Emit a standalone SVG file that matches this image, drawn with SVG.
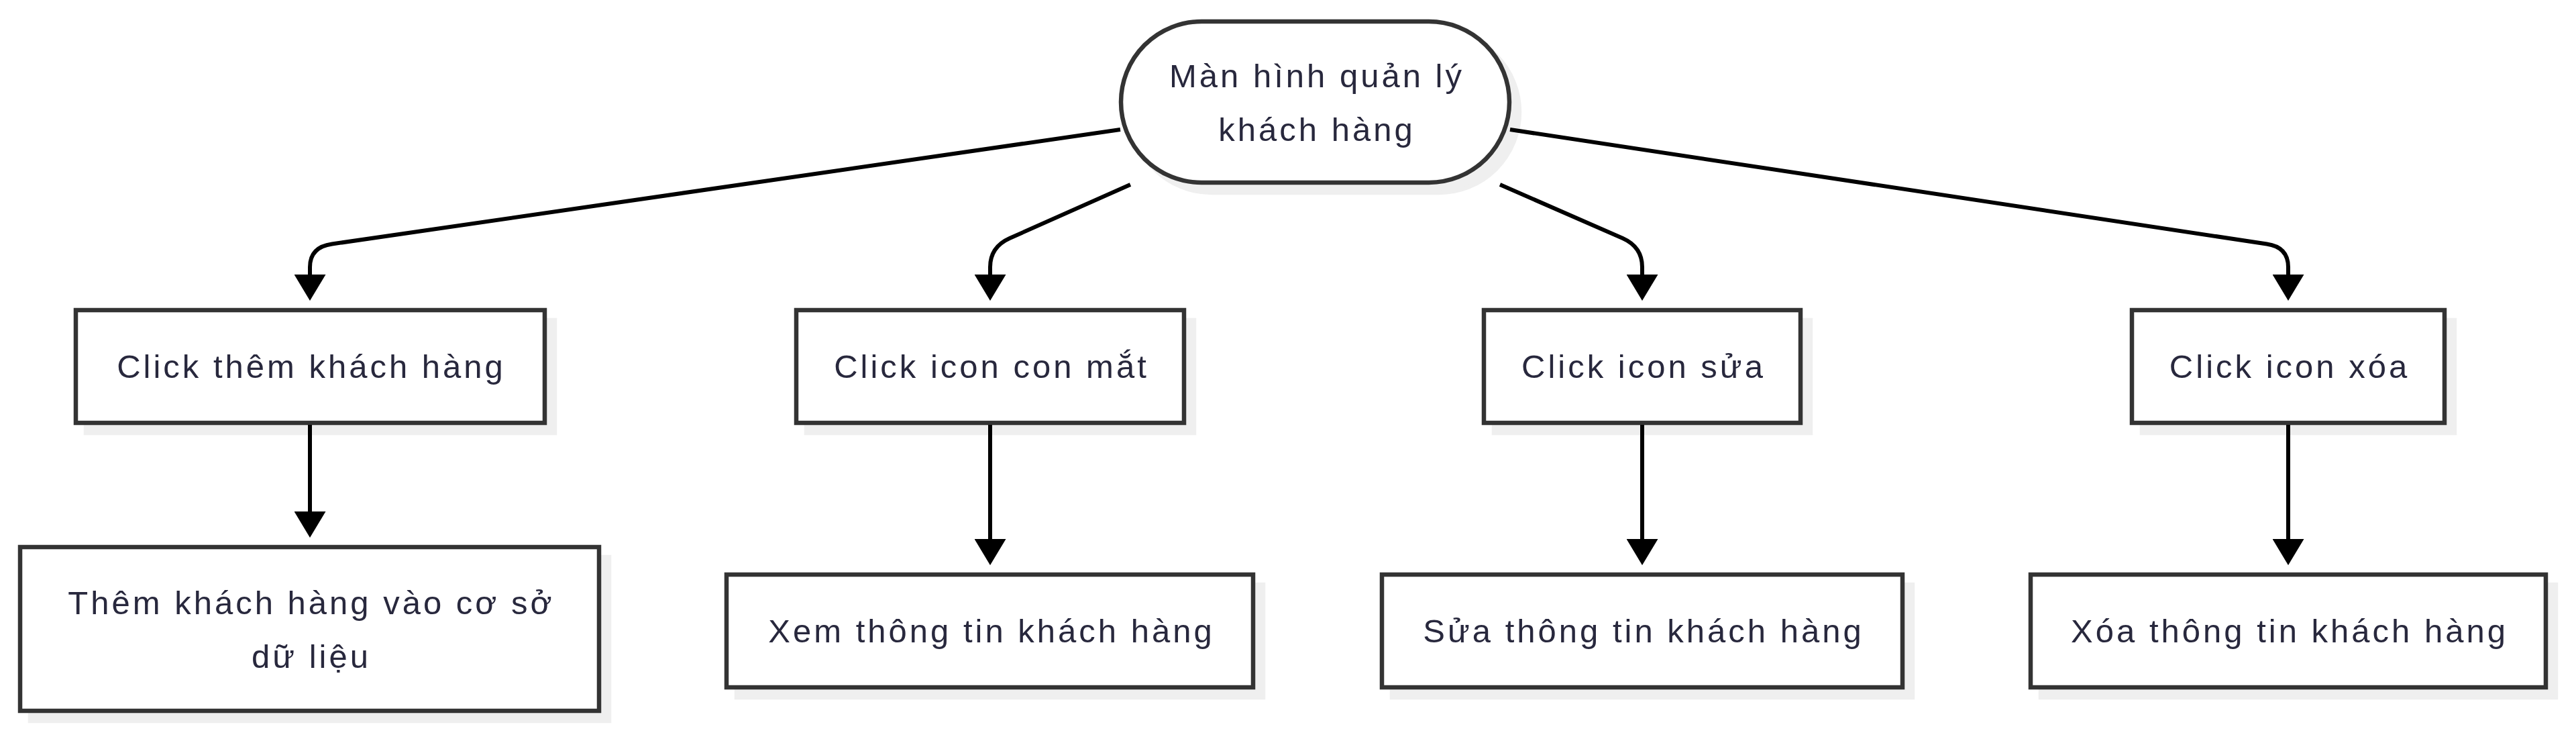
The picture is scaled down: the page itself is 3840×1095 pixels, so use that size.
<svg xmlns="http://www.w3.org/2000/svg" width="3840" height="1095" viewBox="0 0 3840 1095">
<style>
  .node { fill: #ffffff; stroke: #333333; stroke-width: 6.5; }
  .shadow { fill: #efefef; stroke: #efefef; stroke-width: 6.5; }
  .label { font-family: "Liberation Sans", Arial, sans-serif; font-size: 49px; letter-spacing: 4px; fill: #28283d; text-anchor: middle; }
  .edge { fill: none; stroke: #000000; stroke-width: 6; }
</style>
<defs>
  <marker id="arrow" viewBox="0 0 39 47" refX="0" refY="23.5" markerWidth="39" markerHeight="47" markerUnits="userSpaceOnUse" orient="auto">
    <path d="M0,0 L39,23.5 L0,47 z" fill="#000000"/>
  </marker>
</defs>
<rect width="3840" height="1095" fill="#ffffff"/>

<g id="start">
  <rect class="shadow" x="1686" y="47" width="579" height="240" rx="120" ry="120"/>
  <rect class="node" x="1671" y="32" width="579" height="240" rx="120" ry="120"/>
  <text class="label" x="1963" y="129.5">Màn hình quản lý</text>
  <text class="label" x="1963" y="209.5">khách hàng</text>
</g>

<g id="click-them">
  <rect class="shadow" x="128" y="477" width="699" height="168"/>
  <rect class="node" x="113" y="462" width="699" height="168"/>
  <text class="label" x="464" y="563">Click thêm khách hàng</text>
</g>

<g id="click-xem">
  <rect class="shadow" x="1202" y="477" width="578" height="168"/>
  <rect class="node" x="1187" y="462" width="578" height="168"/>
  <text class="label" x="1478" y="563">Click icon con mắt</text>
</g>

<g id="click-sua">
  <rect class="shadow" x="2227" y="477" width="472" height="168"/>
  <rect class="node" x="2212" y="462" width="472" height="168"/>
  <text class="label" x="2450" y="563">Click icon sửa</text>
</g>

<g id="click-xoa">
  <rect class="shadow" x="3193" y="477" width="466" height="168"/>
  <rect class="node" x="3178" y="462" width="466" height="168"/>
  <text class="label" x="3413" y="563">Click icon xóa</text>
</g>

<g id="them-db">
  <rect class="shadow" x="45" y="830" width="863" height="244"/>
  <rect class="node" x="30" y="815" width="863" height="244"/>
  <text class="label" x="464" y="914.5">Thêm khách hàng vào cơ sở</text>
  <text class="label" x="464" y="994.5">dữ liệu</text>
</g>

<g id="xem-info">
  <rect class="shadow" x="1098" y="871" width="785" height="168"/>
  <rect class="node" x="1083" y="856" width="785" height="168"/>
  <text class="label" x="1478" y="957">Xem thông tin khách hàng</text>
</g>

<g id="sua-info">
  <rect class="shadow" x="2075" y="871" width="776" height="168"/>
  <rect class="node" x="2060" y="856" width="776" height="168"/>
  <text class="label" x="2450" y="957">Sửa thông tin khách hàng</text>
</g>

<g id="xoa-info">
  <rect class="shadow" x="3042" y="871" width="768" height="168"/>
  <rect class="node" x="3027" y="856" width="768" height="168"/>
  <text class="label" x="3413" y="957">Xóa thông tin khách hàng</text>
</g>

<g id="connectors">
  <path class="edge" d="M1670,193 L495,363.5 Q462,368 462,398 L462,409" marker-end="url(#arrow)"/>
  <path class="edge" d="M1685,275 L1505,355 Q1476,368 1476,398 L1476,409" marker-end="url(#arrow)"/>
  <path class="edge" d="M2236,275 L2419,355 Q2448,368 2448,398 L2448,409" marker-end="url(#arrow)"/>
  <path class="edge" d="M2251,193 L3379,363.5 Q3411,368 3411,398 L3411,409" marker-end="url(#arrow)"/>
  <path class="edge" d="M462,633 L462,762" marker-end="url(#arrow)"/>
  <path class="edge" d="M1476,633 L1476,803" marker-end="url(#arrow)"/>
  <path class="edge" d="M2448,633 L2448,803" marker-end="url(#arrow)"/>
  <path class="edge" d="M3411,633 L3411,803" marker-end="url(#arrow)"/>
</g>
</svg>
